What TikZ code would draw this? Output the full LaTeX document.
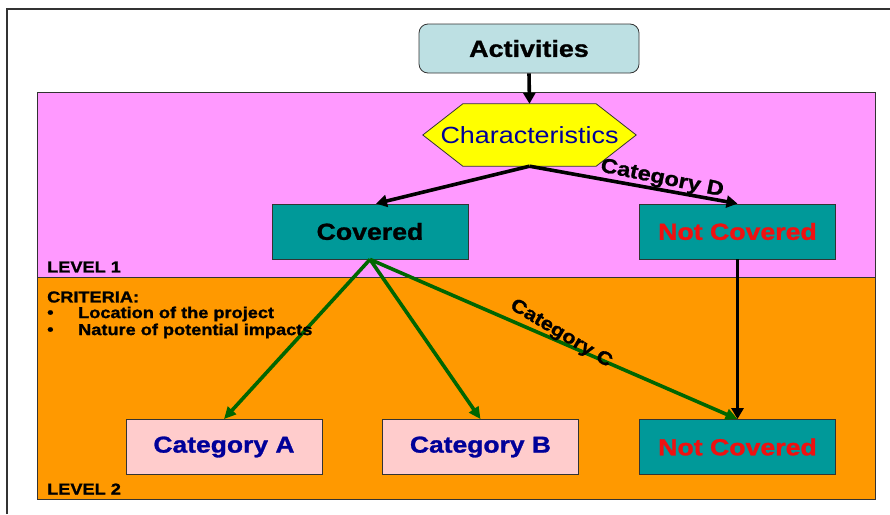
\documentclass[tikz,border=0pt]{standalone}
\usepackage{fontspec}
\setmainfont{Liberation Sans}[FakeStretch=1.15, BoldFeatures={FakeBold=1.2}]
\usetikzlibrary{arrows.meta,calc}

\definecolor{bandpink}{HTML}{FF99FF}
\definecolor{bandorange}{HTML}{FF9900}
\definecolor{boxteal}{HTML}{009999}
\definecolor{actblue}{HTML}{BDE0E3}
\definecolor{hexyellow}{HTML}{FFFF00}
\definecolor{catpink}{HTML}{FFCCCC}
\definecolor{navytext}{HTML}{000099}
\definecolor{redtext}{HTML}{F01010}
\definecolor{arrowgreen}{HTML}{006600}
\definecolor{framegray}{HTML}{333333}

\begin{document}
\begin{tikzpicture}[x=1pt,y=-1pt,
  band/.style={draw=framegray, line width=0.8pt},
  box/.style={draw=framegray, line width=0.8pt, minimum width=196, minimum height=55,
    inner sep=0pt, font=\fontsize{23.2}{28}\selectfont\bfseries},
  tealbox/.style={box, fill=boxteal},
  catbox/.style={box, fill=catpink, text=navytext, font=\fontsize{23}{28}\selectfont\bfseries},
  blackarrow/.style={draw=black, line width=3.6pt, -{Triangle[length=11pt,width=12pt]}},
  greenarrow/.style={draw=arrowgreen, line width=3.6pt, -{Triangle[length=12pt,width=11pt]}},
  smalltext/.style={anchor=west, inner sep=0pt, font=\fontsize{15.8}{18}\selectfont\bfseries},
  catlabel/.style={inner sep=0pt, font=\fontsize{#1}{22}\selectfont\bfseries}
]
\useasboundingbox (0,0) rectangle (890,514);

% outer frame (left and top edges)
\draw[framegray, line width=1.2pt] (7,514) -- (7,9) -- (890,9);

% level bands
\fill[bandpink] (37,92) rectangle (875,277);
\fill[bandorange] (37,277) rectangle (875,499);
\draw[band] (37,92) rectangle (875,277);
\draw[band] (37,277) rectangle (875,499);

% top box
\node[draw=framegray, line width=0.8pt, rounded corners=9pt, fill=actblue,
  minimum width=220, minimum height=49, inner sep=0pt,
  font=\fontsize{23.4}{28}\selectfont\bfseries] (act) at (529,48.5) {Activities};

% hexagon
\node[minimum width=213, minimum height=62, inner sep=0pt] (char) at (529.5,135) {};
\filldraw[fill=hexyellow, draw=framegray, line width=0.8pt]
  (char.west) -- ($(char.north west)+(40,0)$) -- ($(char.north east)+(-40,0)$)
  -- (char.east) -- ($(char.south east)+(-40,0)$) -- ($(char.south west)+(40,0)$) -- cycle;
\node[text=navytext, font=\fontsize{23.4}{28}\selectfont, inner sep=0pt] (chartext) at (char.center) {Characteristics};

% level 1 boxes
\node[tealbox] (cov) at (370,231.5) {Covered};
\node[tealbox, text=redtext] (nc1) at (737.5,231.5) {Not Covered};

% level 2 boxes
\node[catbox] (cata) at (224,447) {Category A};
\node[catbox] (catb) at (480.5,447) {Category B};
\node[tealbox, text=redtext] (nc2) at (737.5,447) {Not Covered};

% connectors
\draw[blackarrow] (act.south) -- (char.north);
\draw[blackarrow] (char.south) -- ($(cov.north)+(6,0)$);
\draw[blackarrow] (char.south) -- (nc1.north);
\draw[blackarrow] (nc1.south) -- (nc2.north);
\draw[greenarrow] (cov.south) -- (cata.north);
\draw[greenarrow] (cov.south) -- (catb.north);
\draw[greenarrow] (cov.south) -- (nc2.north);

% connector labels
\node[catlabel=20.4, rotate=-11.5] (labd) at (662,179) {Category D};
\node[catlabel=18.8, rotate=-31] (labc) at (561,334) {Category C};

% band texts
\node[smalltext] (lev1) at (47,267) {LEVEL 1};
\node[smalltext] (crit) at (47,297) {CRITERIA:};
\node[smalltext] (b1) at (47,314) {•};
\node[smalltext] (t1) at (78,314) {Location of the project};
\node[smalltext] (b2) at (47,331) {•};
\node[smalltext] (t2) at (78,331) {Nature of potential impacts};
\node[smalltext] (lev2) at (47,489) {LEVEL 2};
\end{tikzpicture}
\end{document}
